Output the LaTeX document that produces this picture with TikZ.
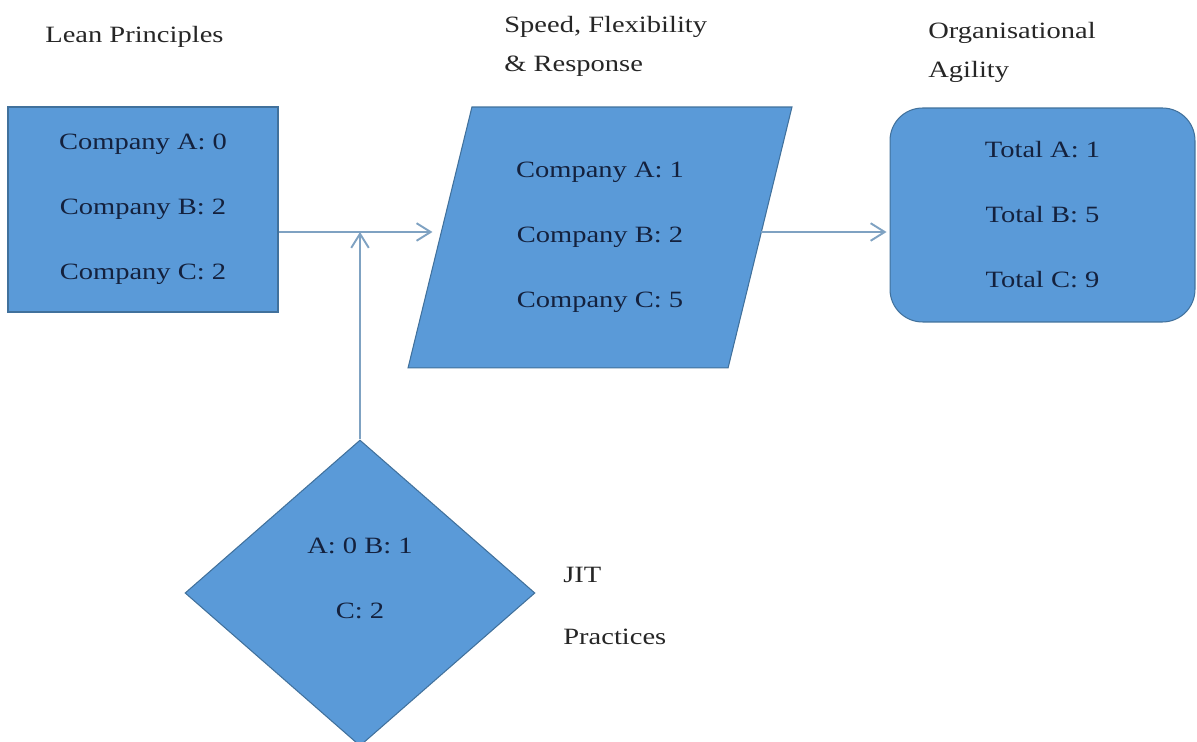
\documentclass[tikz,border=0pt]{standalone}
\usepackage{fontspec}
\setmainfont{Liberation Serif}[FakeStretch=1.22]
\usetikzlibrary{shapes.geometric,arrows.meta}
\definecolor{boxblue}{HTML}{5A9AD8}
\definecolor{boxline}{HTML}{41719C}
\definecolor{boxtext}{HTML}{14213D}
\definecolor{linkgrey}{HTML}{7FA2C2}

\begin{document}
\begin{tikzpicture}[x=0.02cm, y=-0.02cm,
    block/.style={fill=boxblue, draw=boxline, line width=0.6pt, text=boxtext, align=center, inner sep=0pt, font=\fontsize{13.3}{37}\selectfont},
    title/.style={anchor=base west, align=left, inner sep=0pt, text=black!85, font=\fontsize{13.3}{22.5}\selectfont},
    link/.style={draw=linkgrey, line width=1.1pt, -{Straight Barb[length=8pt,width=10pt]}}]
    % page frame
    \useasboundingbox (0,0) rectangle (1197,742);
    \clip (0,0) rectangle (1197,742);
    % Blocks:
    \node[block, rectangle, minimum width=5.4cm, minimum height=4.1cm](lean) at (143,209.5){Company A: 0\\Company B: 2\\Company C: 2};
    \node[block, trapezium, trapezium left angle=67, trapezium right angle=113, trapezium stretches body, minimum width=7.68cm, minimum height=5.22cm](speed) at (600,237.5){Company A: 1\\Company B: 2\\Company C: 5};
    \node[block, rectangle, rounded corners=0.65cm, minimum width=6.1cm, minimum height=4.28cm](agility) at (1042.5,215){Total A: 1\\Total B: 5\\Total C: 9};
    \node[block, diamond, minimum width=7cm, minimum height=6.12cm, label={[block, fill=none, draw=none, yshift=0.3cm]center:{A: 0 B: 1\\C: 2}}](jit) at (360,593){};
    % Titles (base = last line):
    \node[title](leantitle) at (45,43){Lean Principles};
    \node[title](speedtitle) at (504,72){Speed, Flexibility\\\& Response};
    \node[title](agilitytitle) at (928,78){Organisational\\Agility};
    \node[title, font=\fontsize{13.3}{35.7}\selectfont](jittitle) at (563,645){JIT\\Practices};
    % Arrows:
    \coordinate (mid) at (360,232);
    \draw[link, shorten >=0.14cm] (lean.east |- mid) -- (speed.west |- mid);
    \draw[link, shorten >=0.06cm] (speed.east |- mid) -- (agility.west |- mid);
    \draw[link] (jit.north) -- (mid);
\end{tikzpicture}
\end{document}
